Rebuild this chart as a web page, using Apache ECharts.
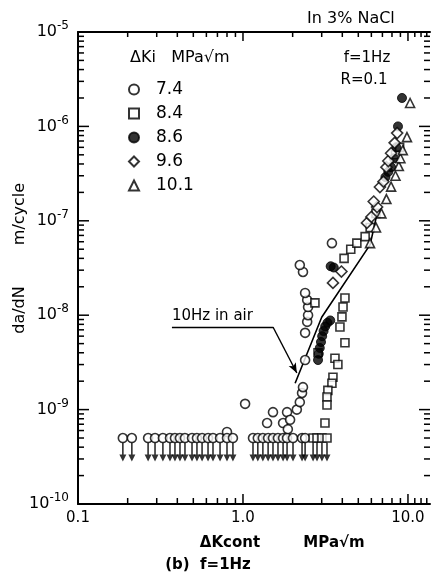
<!DOCTYPE html>
<html>
<head>
<meta charset="utf-8">
<script src="https://cdn.jsdelivr.net/npm/echarts@6/dist/echarts.min.js"></script>
<style>
html, body { margin: 0; padding: 0; background: #fff; }
#chart { width: 431px; height: 576px; }
</style>
</head>
<body>
<div id="chart"></div>
<script>
// da/dN (m/cycle) against ΔKcont (MPa√m), f = 1 Hz, in 3% NaCl
const FONT = 'DejaVu Sans'
const xMin = 0.1
const xMax = 13.6
const yMin = 1e-10
const yMax = 1e-5

const xLabels = { '-1': '0.1', '0': '1.0', '1': '10.0' }
const minorSteps = [2, 3, 4, 5, 6, 7, 8, 9]
const xExtraTicks = [11, 12, 13]

// points below detection limit (drawn with a down arrow)
const detectionLimit = 5e-10
const circleBelowX = [0.187, 0.212, 0.266, 0.293, 0.327, 0.361, 0.387, 0.415, 0.445, 0.491,
  0.526, 0.565, 0.614, 0.658, 0.726, 0.80, 0.869, 1.15, 1.23, 1.32, 1.42, 1.52, 1.63,
  1.75, 1.85, 2.01, 2.28, 2.38]
const squareBelowX = [2.66, 2.81, 3.01, 3.23]

// ΔKi = 7.4
const circles = [
  [0.80, 5.8e-10], [1.03, 1.15e-9], [1.40, 7.2e-10], [1.52, 9.4e-10], [1.75, 7.2e-10],
  [1.85, 9.4e-10], [1.87, 6.2e-10], [1.93, 7.8e-10], [2.12, 1.0e-9], [2.21, 1.2e-9],
  [2.28, 1.5e-9], [2.31, 1.73e-9], [2.38, 3.35e-9], [2.38, 6.5e-9], [2.45, 8.5e-9],
  [2.48, 1.0e-8], [2.48, 1.22e-8], [2.45, 1.45e-8], [2.38, 1.72e-8], [2.31, 2.87e-8],
  [2.21, 3.4e-8], [3.46, 5.8e-8]
]
// ΔKi = 8.4
const squares = [
  [2.73, 1.35e-8], [4.15, 1.52e-8], [4.04, 1.22e-8], [3.98, 9.6e-9], [3.87, 7.5e-9],
  [4.15, 5.1e-9], [3.61, 3.5e-9], [3.76, 3.0e-9], [3.51, 2.2e-9], [3.46, 1.9e-9],
  [3.27, 1.6e-9], [3.23, 1.36e-9], [3.23, 1.12e-9], [3.14, 7.2e-10], [2.85, 4.0e-9],
  [4.1, 4.0e-8], [4.5, 5.0e-8], [4.9, 5.8e-8], [5.5, 6.8e-8], [5.9, 8.5e-8],
  [6.4, 1.2e-7], [8.4, 5.0e-7], [8.9, 6.0e-7]
]
// ΔKi = 8.6
const filled = [
  [2.85, 3.35e-9], [2.88, 3.9e-9], [2.92, 4.5e-9], [2.97, 5.2e-9], [3.02, 6.0e-9],
  [3.08, 6.8e-9], [3.15, 7.6e-9], [3.25, 8.3e-9], [3.38, 8.8e-9], [3.40, 3.3e-8],
  [3.55, 3.2e-8], [7.3, 2.9e-7], [7.6, 3.3e-7], [7.9, 3.7e-7], [8.2, 4.6e-7],
  [8.5, 6.0e-7], [8.7, 1.0e-6], [9.2, 2.0e-6]
]
// ΔKi = 9.6
const diamonds = [
  [3.51, 2.2e-8], [3.95, 2.9e-8], [5.64, 9.5e-8], [6.0, 1.1e-7], [6.5, 1.4e-7],
  [6.2, 1.6e-7], [6.76, 2.28e-7], [7.1, 2.6e-7], [7.4, 3.7e-7], [7.6, 4.3e-7],
  [7.9, 5.2e-7], [8.3, 6.7e-7], [8.6, 8.5e-7]
]
// ΔKi = 10.1
const triangles = [
  [5.89, 5.8e-8], [6.4, 8.5e-8], [6.9, 1.2e-7], [7.4, 1.7e-7], [7.9, 2.3e-7],
  [8.4, 3.0e-7], [8.8, 3.8e-7], [9.0, 4.6e-7], [9.3, 5.6e-7], [9.86, 7.7e-7],
  [10.3, 1.77e-6]
]
// 10 Hz in air reference curve
const airLine = [[2.07, 1.9e-9], [3.0, 9.5e-9], [5.9, 5.6e-8], [6.5, 1.2e-7]]
// leader from the "10Hz in air" note to the curve
const airLeader = [[0.371, 7.5e-9], [1.52, 7.5e-9], [2.12, 2.44e-9]]

// tick marks: [x, y, kind] kind 0 x-minor, 1 x-major, 2 y-minor, 3 y-major
const ticks = []
for (let e = -1; e <= 0; e++) {
  minorSteps.forEach(s => ticks.push([s * Math.pow(10, e), yMin, 0]))
}
xExtraTicks.forEach(v => ticks.push([v, yMin, 0]))
ticks.push([1, yMin, 1], [10, yMin, 1])
for (let e = -10; e <= -6; e++) {
  minorSteps.forEach(s => ticks.push([xMin, s * Math.pow(10, e), 2]))
  if (e > -10) ticks.push([xMin, Math.pow(10, e), 3])
}

const chart = echarts.init(document.getElementById('chart'))

function renderTick(params, api) {
  const cs = params.coordSys
  const kind = api.value(2)
  const style = { stroke: '#000', lineWidth: 1.5 }
  if (kind < 2) {
    const px = api.coord([api.value(0), yMin])[0]
    const len = kind === 1 ? 10 : 6
    const b = cs.y + cs.height
    const t = cs.y
    return {
      type: 'group',
      children: [
        { type: 'line', shape: { x1: px, y1: b, x2: px, y2: b - len }, style },
        { type: 'line', shape: { x1: px, y1: t, x2: px, y2: t + len - 1 }, style }
      ]
    }
  }
  const py = api.coord([xMin, api.value(1)])[1]
  const len = kind === 3 ? 11 : 6
  const l = cs.x
  const r = cs.x + cs.width
  return {
    type: 'group',
    children: [
      { type: 'line', shape: { x1: l, y1: py, x2: l + len, y2: py }, style },
      { type: 'line', shape: { x1: r, y1: py, x2: r - len, y2: py }, style }
    ]
  }
}

const openStyle = { color: '#fff', borderColor: '#000', borderWidth: 1.6 }
const arrowPath = 'path://M3.3,0 L4.7,0 L4.7,12 L7,12 L4,19 L1,12 L3.3,12 Z'

const option = {
  animation: false,
  backgroundColor: '#fff',
  grid: { left: 78, top: 32, right: 1, bottom: 72 },
  legend: {
    data: ['7.4', '8.4', '8.6', '9.6', '10.1'],
    orient: 'vertical',
    left: 123,
    top: 76,
    itemWidth: 10,
    itemHeight: 10,
    itemGap: 7,
    symbolKeepAspect: true,
    textStyle: { fontFamily: FONT, fontSize: 17, color: '#000', lineHeight: 14, padding: [0, 0, 0, 12] }
  },
  xAxis: [
    {
      type: 'log',
      min: xMin,
      max: xMax,
      splitNumber: 2,
      axisLine: { show: true, lineStyle: { color: '#000', width: 2 } },
      axisTick: { show: false },
      splitLine: { show: false },
      axisLabel: {
        margin: 7,
        fontFamily: FONT,
        fontSize: 15,
        color: '#000',
        formatter: v => xLabels[Math.round(Math.log10(v))] || ''
      }
    },
    {
      type: 'log',
      position: 'top',
      min: xMin,
      max: xMax,
      axisLine: { show: true, lineStyle: { color: '#000', width: 2 } },
      axisTick: { show: false },
      axisLabel: { show: false },
      splitLine: { show: false }
    }
  ],
  yAxis: {
    type: 'log',
    min: yMin,
    max: yMax,
    axisLine: { show: true, lineStyle: { color: '#000', width: 2 } },
    axisTick: { show: false },
    splitLine: { show: false },
    axisLabel: {
      margin: 9,
      color: '#000',
      formatter: v => '{b|10}{s|' + Math.round(Math.log10(v)) + '}',
      rich: {
        b: { fontFamily: FONT, fontSize: 16, lineHeight: 24, color: '#000' },
        s: { fontFamily: FONT, fontSize: 12, lineHeight: 13, verticalAlign: 'top', color: '#000' }
      }
    }
  },
  series: [
    {
      name: 'ticks',
      type: 'custom',
      renderItem: renderTick,
      encode: { x: 0, y: 1 },
      data: ticks,
      silent: true,
      z: 5
    },
    {
      name: '10Hz in air',
      type: 'line',
      data: airLine,
      showSymbol: false,
      symbol: 'none',
      lineStyle: { color: '#000', width: 1.6 },
      z: 2,
      markLine: {
        silent: true,
        symbol: ['none', 'none'],
        lineStyle: { color: '#000', width: 1.4, type: 'solid' },
        label: { show: false },
        data: [
          [
            { coord: airLeader[0], label: { show: true, formatter: '10Hz in air', position: 'insideStartTop', distance: [0, 3], fontFamily: FONT, fontSize: 15, color: '#000' } },
            { coord: airLeader[1] }
          ],
          [
            { coord: airLeader[1], symbol: 'none' },
            { coord: airLeader[2], symbol: 'arrow', symbolSize: [6, 10] }
          ]
        ]
      }
    },
    {
      name: 'below limit',
      type: 'scatter',
      data: circleBelowX.concat(squareBelowX).map(x => [x, detectionLimit]),
      symbol: arrowPath,
      symbolSize: [7, 19],
      symbolOffset: [0, 14],
      itemStyle: { color: '#000' },
      z: 3
    },
    {
      name: '7.4',
      type: 'scatter',
      symbol: 'circle',
      symbolSize: 9,
      data: circles.concat(circleBelowX.map(x => [x, detectionLimit])),
      itemStyle: openStyle,
      z: 4
    },
    {
      name: '8.4',
      type: 'scatter',
      symbol: 'rect',
      symbolSize: 8,
      data: squares.concat(squareBelowX.map(x => [x, detectionLimit])),
      itemStyle: openStyle,
      z: 4
    },
    {
      name: '8.6',
      type: 'scatter',
      symbol: 'circle',
      symbolSize: 9,
      data: filled,
      itemStyle: { color: '#000', borderColor: '#000', borderWidth: 1 },
      z: 4
    },
    {
      name: '9.6',
      type: 'scatter',
      symbol: 'diamond',
      symbolSize: 11,
      data: diamonds,
      itemStyle: openStyle,
      z: 4
    },
    {
      name: '10.1',
      type: 'scatter',
      symbol: 'triangle',
      symbolSize: 9,
      data: triangles,
      itemStyle: openStyle,
      z: 4
    }
  ],
  graphic: [
    { type: 'text', left: 307, top: 11, style: { text: 'In 3% NaCl', fontFamily: FONT, fontSize: 16, fill: '#000' } },
    { type: 'text', x: 367, y: 58, style: { text: 'f=1Hz', fontFamily: FONT, fontSize: 15, fill: '#000', align: 'center', verticalAlign: 'middle' } },
    { type: 'text', x: 364, y: 80, style: { text: 'R=0.1', fontFamily: FONT, fontSize: 15, fill: '#000', align: 'center', verticalAlign: 'middle' } },
    { type: 'text', x: 130, y: 58, style: { text: 'ΔKi   MPa√m', fontFamily: FONT, fontSize: 16, fill: '#000', align: 'left', verticalAlign: 'middle' } },
    { type: 'text', x: 20, y: 310, rotation: Math.PI / 2, style: { text: 'da/dN', fontFamily: FONT, fontSize: 16, fill: '#000', align: 'center', verticalAlign: 'middle' } },
    { type: 'text', x: 20, y: 214, rotation: Math.PI / 2, style: { text: 'm/cycle', fontFamily: FONT, fontSize: 16, fill: '#000', align: 'center', verticalAlign: 'middle' } },
    { type: 'text', x: 230, y: 543, style: { text: 'ΔKcont', fontFamily: FONT, fontSize: 15, fontWeight: 'bold', fill: '#000', align: 'center', verticalAlign: 'middle' } },
    { type: 'text', x: 334, y: 543, style: { text: 'MPa√m', fontFamily: FONT, fontSize: 15, fontWeight: 'bold', fill: '#000', align: 'center', verticalAlign: 'middle' } },
    { type: 'text', x: 208, y: 565, style: { text: '(b)  f=1Hz', fontFamily: FONT, fontSize: 15, fontWeight: 'bold', fill: '#000', align: 'center', verticalAlign: 'middle' } }
  ]
}

chart.setOption(option)
</script>
</body>
</html>
